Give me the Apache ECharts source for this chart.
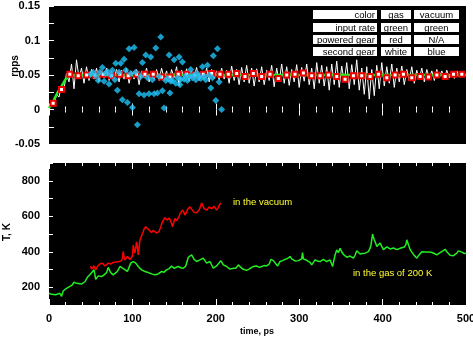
<!DOCTYPE html>
<html>
<head>
<meta charset="utf-8">
<script src="https://cdn.jsdelivr.net/npm/echarts@6/dist/echarts.min.js"></script>
<style>
html,body{margin:0;padding:0;background:#fff;}
#c{width:473px;height:337px;}
</style>
</head>
<body>
<div id="c"></div>
<script>
// ---------- data ----------
var xTicks = [0, 100, 200, 300, 400, 500];
var rppsTicks = ['-0.05', '0', '0.05', '0.1', '0.15'];
var tempTicks = [200, 400, 600, 800];
var xName = 'time, ps', yNameTop = 'rpps', yNameBottom = 'T, K';

// input rate (green) [time, rpps]
var inputRate = [[0,0.002],[5,0.012],[10,0.024],[15,0.034],[20,0.044],[25,0.050],[500,0.050]];

// powered gear in gas (red squares), sampled every 10 ps starting at 5 ps
var poweredStart = 5, poweredStep = 10;
var poweredGas = [0.009,0.029,0.051,0.049,0.050,0.050,0.051,0.049,0.051,0.049,
                  0.051,0.051,0.051,0.047,0.047,0.051,0.051,0.050,0.051,0.052,
                  0.051,0.051,0.052,0.048,0.052,0.048,0.051,0.045,0.050,0.051,
                  0.053,0.049,0.049,0.050,0.048,0.044,0.049,0.049,0.048,0.051,
                  0.046,0.050,0.051,0.046,0.048,0.047,0.050,0.048,0.051,0.051];

// second gear in gas (white line), sampled every 3 ps starting at 0
var secondGasStep = 3;
var secondGas = [0.004,0.010,0.006,0.022,0.018,0.035,0.030,0.052,0.040,0.066,
                 0.030,0.072,0.045,0.060,0.038,0.062,0.042,0.058,0.044,0.060,
                 0.040,0.056,0.046,0.060,0.042,0.055,0.045,0.058,0.040,0.057,
                 0.044,0.060,0.038,0.055,0.044,0.058,0.036,0.056,0.046,0.060,
                 0.040,0.054,0.044,0.058,0.042,0.060,0.045,0.056,0.040,0.058,
                 0.046,0.062,0.034,0.057,0.045,0.059,0.041,0.056,0.047,0.061,
                 0.042,0.055,0.044,0.060,0.040,0.058,0.045,0.056,0.043,0.060,
                 0.044,0.057,0.038,0.063,0.042,0.058,0.036,0.061,0.040,0.064,
                 0.038,0.060,0.034,0.059,0.040,0.062,0.036,0.057,0.042,0.064,
                 0.033,0.060,0.040,0.066,0.038,0.062,0.035,0.058,0.040,0.065,
                 0.032,0.061,0.041,0.066,0.036,0.060,0.030,0.068,0.038,0.064,
                 0.034,0.062,0.028,0.066,0.036,0.070,0.032,0.063,0.040,0.068,
                 0.030,0.065,0.036,0.072,0.028,0.060,0.022,0.062,0.015,0.058,
                 0.020,0.064,0.030,0.068,0.034,0.062,0.038,0.066,0.032,0.060,
                 0.040,0.063,0.036,0.058,0.042,0.062,0.038,0.057,0.044,0.060,
                 0.040,0.058,0.045,0.056,0.042,0.058,0.046,0.056,0.044,0.057,
                 0.046,0.055,0.045,0.056,0.047,0.054,0.048];

// second gear in vacuum (blue diamonds) [time, rpps]
var secondVacuum = [[50,0.051],[53,0.054],[56,0.049],[59,0.042],[61,0.054],[64,0.061],[66,0.041],[68,0.052],
                    [70,0.055],[72,0.037],[74,0.050],[76,0.057],[79,0.043],[80,0.067],[82,0.028],[84,0.054],
                    [86,0.067],[88,0.014],[90,0.073],[92,0.057],[94,0.010],[96,0.088],[98,0.052],[100,0.003],
                    [102,0.090],[104,0.054],[106,-0.022],[108,0.023],[110,0.048],[112,0.068],[114,0.021],[116,0.079],
                    [118,0.046],[120,0.023],[122,0.076],[124,0.043],[126,0.023],[128,0.089],[130,0.024],[132,0.048],
                    [134,0.105],[136,0.027],[138,0.002],[140,0.042],[142,0.045],[144,0.079],[145,0.024],[146,0.041],
                    [148,0.042],[150,0.072],[152,0.038],[154,0.046],[156,0.076],[157,0.036],[158,0.044],[160,0.069],
                    [162,0.044],[164,0.049],[166,0.042],[168,0.048],[170,0.058],[172,0.046],[174,0.050],[176,0.043],
                    [178,0.052],[180,0.048],[182,0.045],[184,0.062],[186,0.048],[188,0.043],[190,0.064],[192,0.050],
                    [194,0.031],[196,0.046],[197,0.078],[200,0.013],[202,0.088],[204,0.040],[207,0.000]];

// temperature in the gas of 200 K (green) [time, K]
var tempGas = [[0,166],[3,160],[5,157],[8,158],[10,162],[13,166],[15,149],[17,179],[21,194],[25,205],[28,214],[30,229],
               [33,222],[35,212],[39,218],[43,231],[46,256],[49,270],[51,279],[54,298],[56,245],[59,264],[63,260],[66,270],
               [69,282],[71,312],[74,282],[77,270],[79,279],[82,289],[85,317],[87,320],[90,302],[94,289],[98,336],[101,345],
               [104,336],[107,317],[109,307],[111,298],[115,289],[118,285],[121,279],[124,274],[127,270],[131,275],[135,289],
               [138,285],[141,298],[144,305],[147,320],[150,307],[155,317],[158,310],[161,307],[164,320],[167,369],[171,382],
               [174,357],[177,345],[181,354],[185,364],[189,336],[193,345],[197,307],[201,320],[206,350],[209,326],[213,317],
               [217,302],[221,307],[224,307],[227,326],[231,307],[234,300],[237,295],[240,302],[243,312],[246,318],[249,320],
               [252,312],[255,317],[258,322],[261,320],[264,330],[266,357],[269,350],[271,354],[274,320],[277,345],[280,350],
               [283,357],[286,362],[289,373],[291,360],[293,354],[295,348],[297,340],[299,350],[301,345],[303,360],[304,395],
               [305,360],[307,350],[309,352],[311,357],[313,340],[315,326],[317,340],[319,354],[322,348],[325,345],[327,350],
               [329,357],[331,352],[333,345],[335,350],[337,354],[339,330],[340,317],[342,360],[343,382],[345,410],[347,395],
               [349,419],[351,400],[353,385],[355,378],[357,369],[359,372],[361,376],[363,370],[365,364],[367,380],[369,406],
               [371,395],[373,387],[376,390],[379,392],[381,396],[383,401],[385,420],[386,437],[388,500],[389,480],[390,467],
               [392,445],[393,430],[395,440],[397,449],[399,430],[401,412],[403,420],[405,427],[407,420],[409,416],[411,410],
               [413,421],[415,418],[417,412],[419,418],[422,421],[424,415],[426,427],[428,440],[429,467],[431,440],[433,412],
               [435,398],[437,385],[439,375],[441,364],[443,378],[445,389],[447,400],[449,408],[451,398],[453,392],[456,398],
               [459,396],[462,390],[465,382],[468,392],[471,401],[473,408],[475,414],[477,400],[479,389],[481,380],[483,374],
               [485,378],[487,382],[489,392],[491,405],[493,414],[495,398],[496,387],[498,390],[500,392]];

// temperature in the vacuum (red) [time, K]
var tempVacuum = [[50,320],[51,302],[53,312],[54,320],[56,298],[58,317],[60,325],[61,331],[63,328],[64,336],[66,330],
                  [67,320],[69,330],[71,336],[73,328],[74,331],[77,340],[79,350],[80,342],[82,336],[84,345],[85,354],
                  [87,350],[88,364],[89,401],[90,370],[91,354],[93,365],[94,373],[96,362],[97,357],[99,368],[100,373],
                  [101,437],[102,410],[103,392],[104,420],[105,456],[106,430],[107,382],[108,420],[109,465],[111,490],
                  [112,483],[113,513],[114,528],[115,520],[116,541],[118,530],[120,522],[122,515],[123,508],[125,520],
                  [127,518],[129,505],[131,496],[132,515],[134,541],[135,555],[136,569],[138,580],[139,592],[141,585],
                  [142,578],[144,590],[145,587],[147,560],[148,541],[150,570],[151,587],[153,575],[154,569],[156,598],
                  [157,615],[159,625],[160,634],[162,620],[163,606],[165,625],[166,638],[168,645],[169,653],[171,640],
                  [172,634],[174,622],[175,615],[177,620],[178,625],[180,635],[181,643],[182,660],[183,675],[185,655],
                  [186,643],[188,640],[189,634],[191,645],[192,653],[194,648],[195,643],[197,650],[198,656],[200,645],
                  [201,634],[203,650],[204,662],[205,668],[206,675]];

// legend table
var tableRows = [['color','gas','vacuum'],
                 ['input rate','green','green'],
                 ['powered gear','red','N/A'],
                 ['second gear','white','blue']];
var noteVacuum = 'in the vacuum';
var noteGas = 'in the gas of 200 K';

// ---------- build ----------
var poweredData = poweredGas.map(function(v,i){ return [poweredStart + i*poweredStep, v]; });
var secondGasData = secondGas.map(function(v,i){ return [i*secondGasStep, v]; });

var FONT = 'Liberation Sans';
var tickLbl = {fontFamily: FONT, fontWeight: 'bold', fontSize: 11, color: '#000'};

function xAx(grid, pos, labels){
  return {
    type: 'value', gridIndex: grid, position: pos, min: 0, max: 500, interval: 100,
    axisLine: {show: false},
    axisTick: {show: true, inside: true, length: 6, lineStyle: {color: '#fff', width: 1}},
    minorTick: {show: true, splitNumber: 5, length: 3, lineStyle: {color: '#fff', width: 1}},
    splitLine: {show: false},
    axisLabel: labels ? Object.assign({margin: 8, formatter: function(v){ return xTicks.indexOf(v) >= 0 ? String(v) : ''; }}, tickLbl) : {show: false}
  };
}

var option = {
  animation: false,
  backgroundColor: '#fff',
  grid: [
    {left: 49, top: 6, width: 417, height: 138, show: true, backgroundColor: '#000', borderWidth: 0,
     containLabel: false, outerBoundsMode: 'none'},
    {left: 49, top: 163, width: 417, height: 142, show: true, backgroundColor: '#000', borderWidth: 0,
     containLabel: false, outerBoundsMode: 'none'}
  ],
  xAxis: [
    xAx(0, 'bottom', false),
    xAx(0, 'top', false),
    xAx(1, 'bottom', true),
    xAx(1, 'top', false)
  ],
  yAxis: [
    {type: 'value', gridIndex: 0, position: 'left', min: -0.05, max: 0.15, interval: 0.05,
     axisLine: {show: false}, splitLine: {show: false},
     axisTick: {show: true, inside: true, length: 5, lineStyle: {color: '#fff'}},
     minorTick: {show: true, splitNumber: 2, length: 5, lineStyle: {color: '#fff'}},
     axisLabel: Object.assign({margin: 9, formatter: function(v){ var s = String(+v.toFixed(2)); return rppsTicks.indexOf(s) >= 0 ? s : ''; }}, tickLbl)},
    {type: 'value', gridIndex: 0, position: 'right', min: -0.05, max: 0.15, interval: 0.05,
     axisLine: {show: false}, splitLine: {show: false}, axisLabel: {show: false},
     axisTick: {show: true, inside: true, length: 5, lineStyle: {color: '#fff'}},
     minorTick: {show: true, splitNumber: 2, length: 5, lineStyle: {color: '#fff'}}},
    {type: 'value', gridIndex: 1, position: 'left', min: 100, max: 900, interval: 100,
     axisLine: {show: false}, splitLine: {show: false},
     axisTick: {show: true, inside: true, length: 4, lineStyle: {color: '#fff'}},
     axisLabel: Object.assign({margin: 9, formatter: function(v){ return tempTicks.indexOf(v) >= 0 ? String(v) : ''; }}, tickLbl)},
    {type: 'value', gridIndex: 1, position: 'right', min: 100, max: 900, interval: 100,
     axisLine: {show: false}, splitLine: {show: false}, axisLabel: {show: false},
     axisTick: {show: true, inside: true, length: 4, lineStyle: {color: '#fff'}}}
  ],
  series: [
    {type: 'line', xAxisIndex: 0, yAxisIndex: 0, data: secondGasData, showSymbol: false,
     lineStyle: {color: '#fff', width: 1}, z: 2},
    {type: 'line', xAxisIndex: 0, yAxisIndex: 0, data: inputRate, showSymbol: false,
     lineStyle: {color: '#22ee22', width: 2.5}, z: 3},
    {type: 'line', xAxisIndex: 0, yAxisIndex: 0, data: poweredData, lineStyle: {width: 0, opacity: 0},
     symbol: 'rect', symbolSize: 5, showSymbol: true,
     itemStyle: {color: '#fff', borderColor: '#ee0000', borderWidth: 2}, z: 4},
    {type: 'scatter', xAxisIndex: 0, yAxisIndex: 0, data: secondVacuum,
     symbol: 'diamond', symbolSize: 7, itemStyle: {color: '#1ec4fa'}, z: 5},
    {type: 'line', xAxisIndex: 2, yAxisIndex: 2, data: tempGas, showSymbol: false,
     lineStyle: {color: '#22ee22', width: 1.5}, z: 3},
    {type: 'line', xAxisIndex: 2, yAxisIndex: 2, data: tempVacuum, showSymbol: false,
     lineStyle: {color: '#ff0000', width: 1.5}, z: 4}
  ],
  graphic: []
};

// axis titles
var nameFont = 'bold 10px "Liberation Sans"';
option.graphic.push({type: 'text', silent: true, x: 15, y: 66, rotation: Math.PI/2,
  style: {text: yNameTop, fill: '#000', font: nameFont, textAlign: 'center', textVerticalAlign: 'middle'}});
option.graphic.push({type: 'text', silent: true, x: 7, y: 232, rotation: Math.PI/2,
  style: {text: yNameBottom, fill: '#000', font: nameFont, textAlign: 'center', textVerticalAlign: 'middle'}});
option.graphic.push({type: 'text', silent: true, x: 257, y: 332,
  style: {text: xName, fill: '#000', font: 'bold 9px "Liberation Sans"', textAlign: 'center', textVerticalAlign: 'middle'}});

// table cells
var colX = [313, 381, 414], colW = [64, 30, 45], rowY = [10, 23, 35, 47], rowH = 9;
tableRows.forEach(function(row, r){
  row.forEach(function(txt, c){
    option.graphic.push({type: 'rect', shape: {x: colX[c], y: rowY[r], width: colW[c], height: rowH},
                         style: {fill: '#fff'}, z: 100, silent: true});
    option.graphic.push({type: 'text', z: 101, silent: true,
      x: c === 0 ? colX[c] + colW[c] - 2 : colX[c] + colW[c]/2, y: rowY[r] + rowH/2 + 0.5,
      style: {text: txt, fill: '#000', font: '9.5px "Liberation Sans"',
              textAlign: c === 0 ? 'right' : 'center', textVerticalAlign: 'middle'}});
  });
});
option.graphic.push({type: 'text', z: 101, silent: true, x: 233, y: 202,
  style: {text: noteVacuum, fill: '#ffff33', font: '9.5px "Liberation Sans"', textAlign: 'left', textVerticalAlign: 'middle'}});
option.graphic.push({type: 'text', z: 101, silent: true, x: 353, y: 273,
  style: {text: noteGas, fill: '#ffff33', font: '9.5px "Liberation Sans"', textAlign: 'left', textVerticalAlign: 'middle'}});

var chart = echarts.init(document.getElementById('c'), null, {renderer: 'canvas'});
chart.setOption(option);
</script>
</body>
</html>
